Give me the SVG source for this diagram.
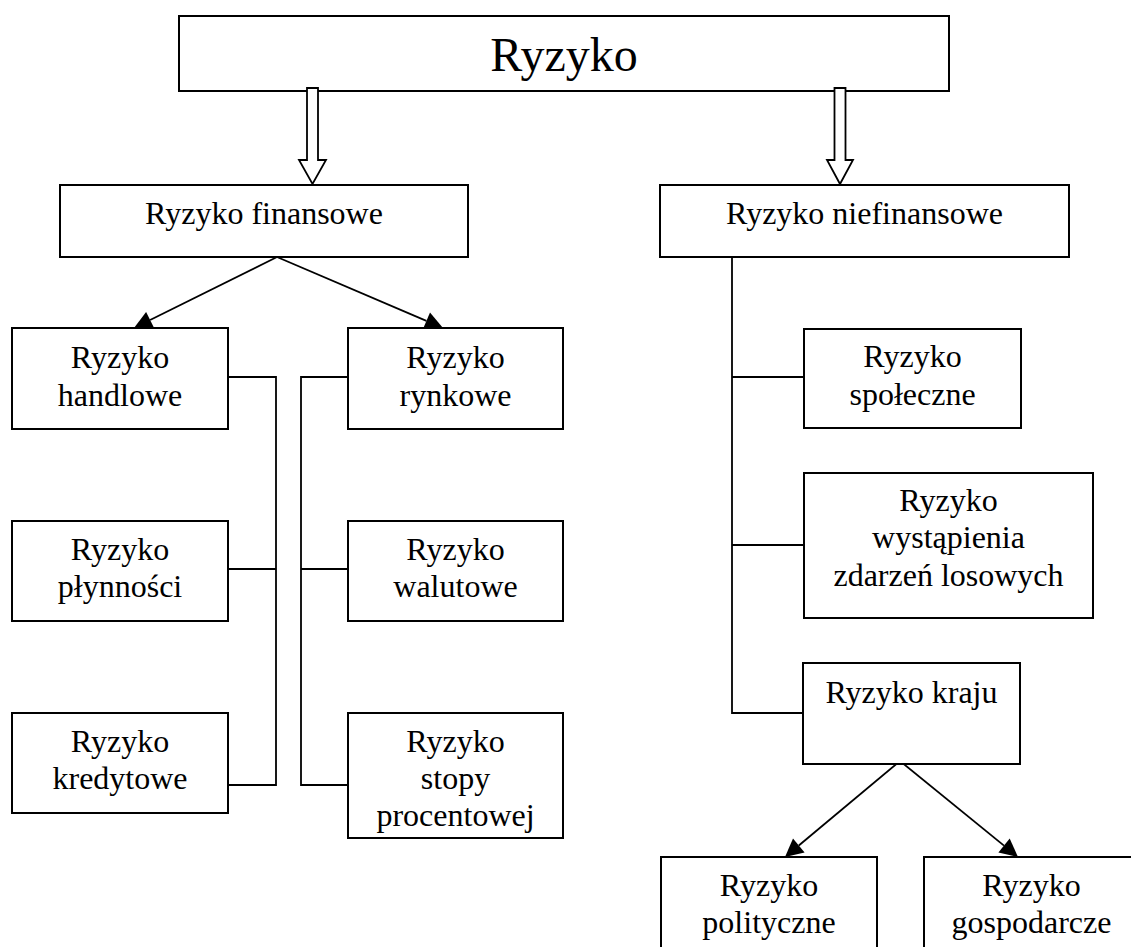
<svg xmlns="http://www.w3.org/2000/svg" width="1131" height="947" viewBox="0 0 1131 947">
<style>
.box{fill:#fff;stroke:#000;stroke-width:2}
.t{font-family:"Liberation Serif","Times New Roman",serif;font-size:32px;fill:#000;text-anchor:middle}
.big{font-size:48px}
.ln{fill:none;stroke:#000;stroke-width:1.8}
.ah{fill:#000;stroke:none}
.hollow{fill:#fff;stroke:#000;stroke-width:1.8;stroke-linejoin:miter}
</style>
<rect width="1131" height="947" fill="#fff"/>
<g id="connectors">
<path class="ln" d="M277,257 L150.1,320.0"/>
<polygon class="ah" points="134,328 154.1,328.1 146.1,311.9"/>
<path class="ln" d="M277,257 L426.4,320.9"/>
<polygon class="ah" points="443,328 422.9,329.2 430.0,312.6"/>
<path class="ln" d="M900,761 L798.8,845.5"/>
<polygon class="ah" points="785,857 804.6,852.4 793.0,838.6"/>
<path class="ln" d="M900,761 L1004.0,845.6"/>
<polygon class="ah" points="1018,857 998.4,852.6 1009.7,838.6"/>
<path class="ln" d="M228,377 H276 V785 H228 M228,569 H276"/>
<path class="ln" d="M348,377 H301 V785 H348 M301,569 H348"/>
<path class="ln" d="M732,257 V713 H804 M732,377 H804 M732,545 H804"/>
</g>
<g id="n-ryzyko"><rect class="box" x="179" y="16" width="770" height="75"/><text class="t big" x="564" y="71">Ryzyko</text></g>
<g id="n-finansowe"><rect class="box" x="60" y="185" width="408" height="72"/><text class="t" x="264" y="224">Ryzyko finansowe</text></g>
<g id="n-niefinansowe"><rect class="box" x="660" y="185" width="409" height="72"/><text class="t" x="864.5" y="224">Ryzyko niefinansowe</text></g>
<g id="n-handlowe"><rect class="box" x="12" y="328" width="216" height="101"/><text class="t" x="120" y="368">Ryzyko</text><text class="t" x="120" y="406">handlowe</text></g>
<g id="n-plynnosci"><rect class="box" x="12" y="521" width="216" height="100"/><text class="t" x="120" y="560">Ryzyko</text><text class="t" x="120" y="597">płynności</text></g>
<g id="n-kredytowe"><rect class="box" x="12" y="713" width="216" height="100"/><text class="t" x="120" y="752">Ryzyko</text><text class="t" x="120" y="789">kredytowe</text></g>
<g id="n-rynkowe"><rect class="box" x="348" y="328" width="215" height="101"/><text class="t" x="455.5" y="368">Ryzyko</text><text class="t" x="455.5" y="406">rynkowe</text></g>
<g id="n-walutowe"><rect class="box" x="348" y="521" width="215" height="100"/><text class="t" x="455.5" y="560">Ryzyko</text><text class="t" x="455.5" y="597">walutowe</text></g>
<g id="n-stopy"><rect class="box" x="348" y="713" width="215" height="125"/><text class="t" x="455.5" y="752">Ryzyko</text><text class="t" x="455.5" y="789">stopy</text><text class="t" x="455.5" y="826">procentowej</text></g>
<g id="n-spoleczne"><rect class="box" x="804" y="329" width="217" height="99"/><text class="t" x="912.5" y="367">Ryzyko</text><text class="t" x="912.5" y="405">społeczne</text></g>
<g id="n-wystapienia"><rect class="box" x="804" y="473" width="289" height="145"/><text class="t" x="948.5" y="511">Ryzyko</text><text class="t" x="948.5" y="548">wystąpienia</text><text class="t" x="948.5" y="586">zdarzeń losowych</text></g>
<g id="n-kraju"><rect class="box" x="803" y="663" width="217" height="101"/><text class="t" x="911.5" y="703">Ryzyko kraju</text></g>
<g id="n-polityczne"><rect class="box" x="661" y="857" width="216" height="120"/><text class="t" x="769" y="896">Ryzyko</text><text class="t" x="769" y="933">polityczne</text></g>
<g id="n-gospodarcze"><rect class="box" x="924" y="857" width="215" height="120"/><text class="t" x="1031.5" y="896">Ryzyko</text><text class="t" x="1031.5" y="933">gospodarcze</text></g>
<g id="hollow-arrows">
<polygon class="hollow" points="307,88 318,88 318,160 326,160 312.5,184 299,160 307,160"/>
<polygon class="hollow" points="834.5,88 845.5,88 845.5,160 853,160 840,184 827,160 834.5,160"/>
</g>
</svg>
